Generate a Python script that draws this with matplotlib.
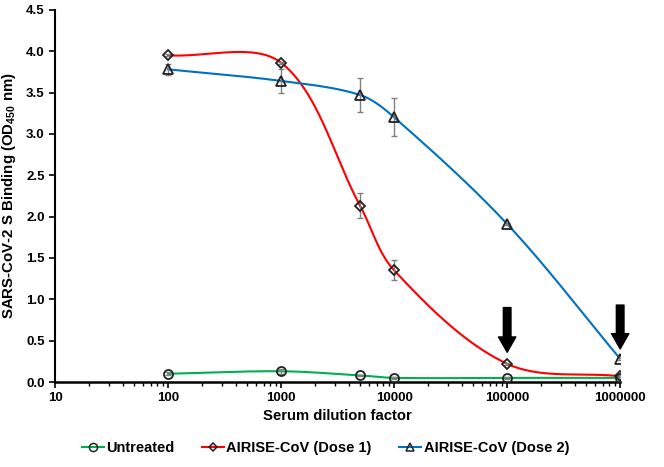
import numpy as np
import matplotlib
matplotlib.use('Agg')
import matplotlib.pyplot as plt
from matplotlib.lines import Line2D

plt.rcParams['font.family'] = 'Liberation Sans'
plt.rcParams['font.weight'] = 'bold'
plt.rcParams['mathtext.fontset'] = 'custom'
plt.rcParams['mathtext.rm'] = 'Liberation Sans:bold'
plt.rcParams['mathtext.bf'] = 'Liberation Sans:bold'

# dados
dilution = [100, 1000, 5000, 10000, 100000, 1000000]
untreated = [0.10, 0.13, 0.08, 0.05, 0.05, 0.05]
untreated_err = [0.02, 0.03, 0.01, 0.01, 0.01, 0.01]
dose1 = [3.95, 3.86, 2.13, 1.35, 0.22, 0.07]
dose1_err = [0.01, 0.01, 0.15, 0.12, 0.01, 0.01]
dose2 = [3.78, 3.64, 3.47, 3.20, 1.91, 0.28]
dose2_err = [0.07, 0.14, 0.20, 0.23, 0.01, 0.01]

# setas indicando os pontos
arrow_x = [100000, 1000000]
arrow_top = [0.90, 0.93]
arrow_tip = [0.36, 0.40]

labels = ['Untreated', 'AIRISE-CoV (Dose 1)', 'AIRISE-CoV (Dose 2)']
colors = ['#00b050', '#ff0000', '#0070c0']
markers = ['o', 'D', '^']
msizes = [6.5, 4.8, 6.5]


def smooth(xs, ys, n=80):
  # curva suave (catmull-rom com parametro por comprimento de corda), em pixels
  px = np.log10(xs) * 113.0
  py = np.array(ys, dtype=float) * 82.7
  pts = np.column_stack([px, py])
  d = np.sqrt(np.sum(np.diff(pts, axis=0)**2, axis=1))
  t = np.concatenate([[0], np.cumsum(d)])
  npts = len(pts)
  m = np.zeros_like(pts)
  for i in range(npts):
    a = max(i - 1, 0)
    b = min(i + 1, npts - 1)
    m[i] = (pts[b] - pts[a]) / (t[b] - t[a])
  out = []
  for i in range(npts - 1):
    dt = t[i + 1] - t[i]
    c1 = pts[i] + m[i] * dt / 3
    c2 = pts[i + 1] - m[i + 1] * dt / 3
    s = np.linspace(0, 1, n)[:, None]
    seg = (1 - s)**3 * pts[i] + 3 * (1 - s)**2 * s * c1 + 3 * (1 - s) * s**2 * c2 + s**3 * pts[i + 1]
    out.append(seg)
  out = np.vstack(out)
  return 10**(out[:, 0] / 113.0), out[:, 1] / 82.7


fig = plt.figure(figsize=(6.64, 4.67), dpi=100)
ax = fig.add_axes([0.083, 0.182, 0.851, 0.797])

series = [(untreated, untreated_err), (dose1, dose1_err), (dose2, dose2_err)]
for (vals, errs), c, m, ms in zip(series, colors, markers, msizes):
  sx, sy = smooth(dilution, vals)
  ax.plot(sx, sy, color=c, lw=1.5, zorder=2)
  ax.errorbar(dilution, vals, yerr=errs, fmt='none', ecolor='#808080', elinewidth=1, capsize=2.5, capthick=1, zorder=3)
  ax.plot(dilution, vals, ls='none', marker=m, ms=ms, mfc='none', mec='#222222', mew=1.3, zorder=4)

for x, y0, y1 in zip(arrow_x, arrow_top, arrow_tip):
  ax.annotate('', xy=(x, y1), xytext=(x, y0),
              arrowprops=dict(facecolor='black', edgecolor='black', width=5.5, headwidth=12.5, headlength=11, shrink=0))

ax.set_xscale('log')
ax.set_xlim(10, 1000000)
ax.set_ylim(0, 4.5)
ax.set_yticks(np.arange(0, 4.51, 0.5))
ax.set_yticklabels(['%.1f' % v for v in np.arange(0, 4.51, 0.5)])
ax.set_xticks([10, 100, 1000, 10000, 100000, 1000000])
ax.set_xticklabels(['10', '100', '1000', '10000', '100000', '1000000'])
ax.tick_params(axis='both', labelsize=9.5, direction='out', width=1.2, length=4)
ax.tick_params(axis='x', which='minor', direction='out', width=1, length=3)
for s in ['top', 'right']:
  ax.spines[s].set_visible(False)
ax.spines['left'].set_linewidth(1.5)
ax.spines['bottom'].set_linewidth(1.8)

ax.set_xlabel('Serum dilution factor', fontsize=10.7, fontweight='bold', labelpad=3)
ax.set_ylabel(r'SARS-CoV-2 S Binding (OD$_\mathbf{450}$ nm)', fontsize=10.8, fontweight='bold', labelpad=6)

handles = [Line2D([], [], color=c, lw=1.5, marker=m, ms=ms * 0.9, mfc='none', mec='#222222', mew=1.1)
           for c, m, ms in zip(colors, markers, msizes)]
fig.legend(handles, labels, loc='center', bbox_to_anchor=(0.49, 0.041), ncol=3, frameon=False,
           prop={'size': 10.5, 'weight': 'bold'}, handlelength=1.5, handletextpad=0.2, columnspacing=1.85)

plt.savefig('out.png', dpi=100)
